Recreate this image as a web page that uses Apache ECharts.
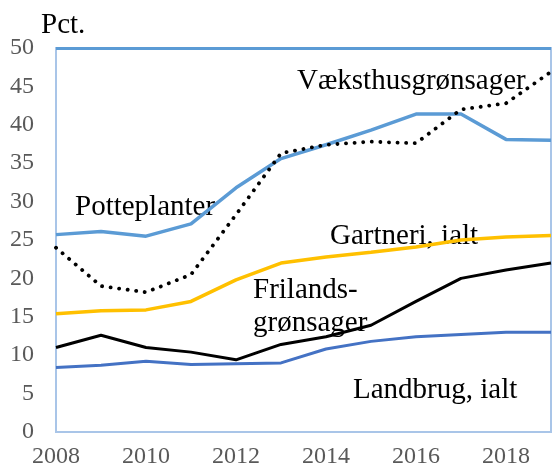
<!DOCTYPE html>
<html><head><meta charset="utf-8">
<script src="https://cdn.jsdelivr.net/npm/echarts@6/dist/echarts.min.js"></script>
<style>html,body{margin:0;padding:0;background:#fff}#c{width:553px;height:470px}</style>
</head><body><div id="c"></div>
<script>
const years = [2008,2009,2010,2011,2012,2013,2014,2015,2016,2017,2018,2019];
const potteplanter = [25.7,26.1,25.5,27.1,31.8,35.6,37.4,39.3,41.4,41.4,38.1,38.0];
const vaeksthus = [24.0,19.0,18.2,20.5,28.3,36.3,37.4,37.8,37.6,42.0,42.8,46.9];
const gartneri = [15.4,15.8,15.9,17.0,19.8,22.0,22.8,23.4,24.1,25.0,25.4,25.6];
const friland = [11.0,12.6,11.0,10.4,9.4,11.4,12.4,13.9,17.0,20.0,21.1,22.0];
const landbrug = [8.4,8.7,9.2,8.8,8.9,9.0,10.8,11.8,12.4,12.7,13.0,13.0];
const yMin = 0, yMax = 50, yStep = 5;
const xMin = 2008, xMax = 2019, xStep = 2;

const FONT = "'Liberation Serif','Times New Roman',serif";
const pair = arr => years.map((y,i)=>[y,arr[i]]);
const chart = echarts.init(document.getElementById('c'), null, {renderer:'canvas'});
const lbl = (text, left, y) => ({type:'text', left:left, top:y-14, style:{text:text, font:'29px '+FONT, fill:'#000'}});
chart.setOption({
  animation:false,
  grid:{left:56,right:2,top:48,bottom:38,show:true,borderColor:'#A9C5E8',borderWidth:2,backgroundColor:'#fff'},
  xAxis:{type:'value',min:xMin,max:xMax,interval:xStep,
    axisLine:{show:false},axisTick:{show:false},splitLine:{show:false},
    axisLabel:{formatter:v=>String(v),color:'#595959',fontFamily:FONT,fontSize:24,margin:13,showMaxLabel:false}},
  yAxis:{type:'value',min:yMin,max:yMax,interval:yStep,
    axisLine:{show:false},axisTick:{show:false},splitLine:{show:false},
    axisLabel:{color:'#595959',fontFamily:FONT,fontSize:24,margin:22}},
  series:[
    {type:'line',data:pair(landbrug),symbol:'none',lineStyle:{color:'#4472C4',width:3},z:3},
    {type:'line',data:pair(friland),symbol:'none',lineStyle:{color:'#000',width:3},z:3},
    {type:'line',data:pair(gartneri),symbol:'none',lineStyle:{color:'#FFC000',width:3.5},z:3},
    {type:'line',data:pair(potteplanter),symbol:'none',lineStyle:{color:'#5B9BD5',width:3.5},z:3,
      markLine:{silent:true,symbol:'none',label:{show:false},lineStyle:{color:'#5B9BD5',width:3,type:'solid'},data:[{yAxis:yMax}]}},
    {type:'line',data:pair(vaeksthus),symbol:'none',lineStyle:{color:'#000',width:3.8,type:[0.1,8.5],cap:'round'},z:4}
  ],
  graphic:[
    {type:'text',left:41,top:11,style:{text:'Pct.',font:'29px '+FONT,fill:'#000'}},
    lbl('Væksthusgrønsager',297,81),
    lbl('Potteplanter',75,207),
    lbl('Gartneri, ialt',330,236),
    lbl('Frilands-',253,290),
    lbl('grønsager',253,323),
    lbl('Landbrug, ialt',353,390)
  ]
});
</script></body></html>
